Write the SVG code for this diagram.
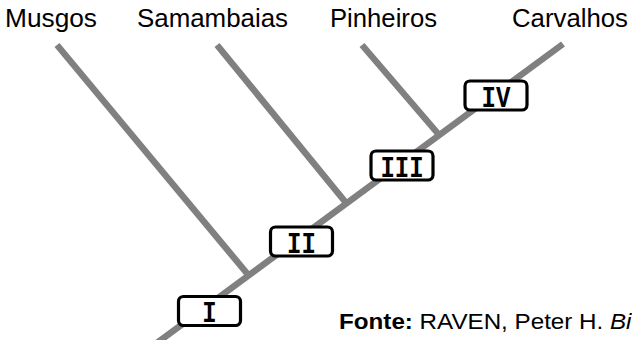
<svg xmlns="http://www.w3.org/2000/svg" width="632" height="340" viewBox="0 0 632 340">
<style>
.lbl{font-family:"Liberation Sans",Arial,sans-serif;font-size:25px;fill:#000}
.br{stroke:#808080;stroke-width:6.5;fill:none;stroke-linecap:butt}
.box{fill:#fff;stroke:#000;stroke-width:3.2}
.num{font-family:"Liberation Mono","Courier New",monospace;font-weight:bold;font-size:24px;fill:#000;text-anchor:middle}
.src{font-family:"Liberation Sans",Arial,sans-serif;font-size:22px;fill:#000}
</style>
<rect width="632" height="340" fill="#fff"/>
<g id="connectors">
<line class="br" x1="150" y1="348" x2="563" y2="44"/>
<line class="br" x1="57" y1="45" x2="250" y2="277"/>
<line class="br" x1="217" y1="45" x2="347" y2="204"/>
<line class="br" x1="362" y1="45" x2="440" y2="136"/>
</g>
<g id="musgos"><text class="lbl" x="5" y="27" textLength="92" lengthAdjust="spacingAndGlyphs">Musgos</text></g>
<g id="samambaias"><text class="lbl" x="137" y="27" textLength="151" lengthAdjust="spacingAndGlyphs">Samambaias</text></g>
<g id="pinheiros"><text class="lbl" x="330" y="27" textLength="107" lengthAdjust="spacingAndGlyphs">Pinheiros</text></g>
<g id="carvalhos"><text class="lbl" x="512" y="27" textLength="116" lengthAdjust="spacingAndGlyphs">Carvalhos</text></g>
<g id="node-I" transform="translate(209.5,311)">
<rect class="box" x="-31" y="-14.5" width="62" height="29" rx="5"/>
<text class="num" transform="scale(1,1.25)" x="0" y="8.8">I</text>
</g>
<g id="node-II" transform="translate(301.5,241.5)">
<rect class="box" x="-31" y="-14.5" width="62" height="29" rx="5"/>
<text class="num" transform="scale(1,1.25)" x="0" y="8.8">II</text>
</g>
<g id="node-III" transform="translate(402,165.5)">
<rect class="box" x="-31" y="-14.5" width="62" height="29" rx="5"/>
<text class="num" transform="scale(1,1.25)" x="0" y="8.8">III</text>
</g>
<g id="node-IV" transform="translate(496,95.5)">
<rect class="box" x="-31" y="-14.5" width="62" height="29" rx="5"/>
<text class="num" transform="scale(1,1.25)" x="0" y="8.8">IV</text>
</g>
<g id="source"><text class="src" transform="scale(1.1,1)" x="308.2" y="329"><tspan font-weight="bold">Fonte:</tspan> RAVEN, Peter H. <tspan font-style="italic">Bi</tspan></text></g>
</svg>
